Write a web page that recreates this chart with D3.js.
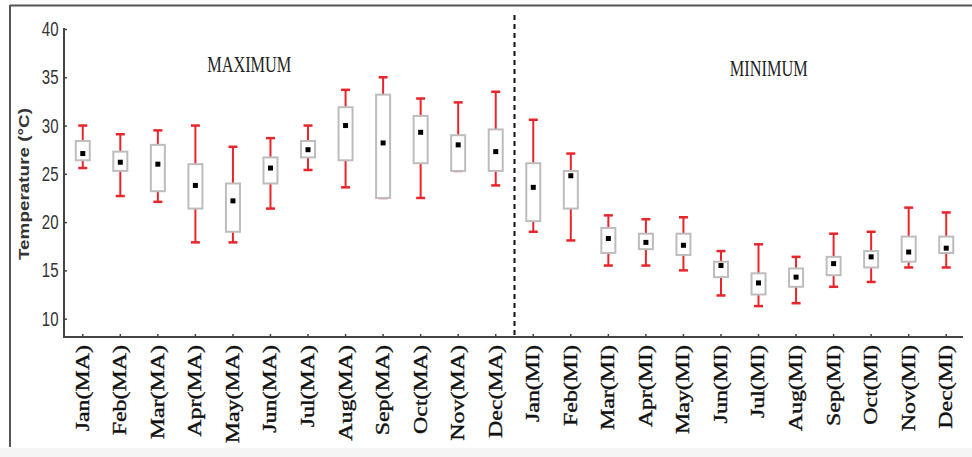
<!DOCTYPE html>
<html>
<head>
<meta charset="utf-8">
<script src="https://cdn.jsdelivr.net/npm/d3@7"></script>
<style>
  html, body { margin: 0; padding: 0; background: #fff; }
  svg { display: block; }
</style>
</head>
<body>
<svg id="chart" width="972" height="457"></svg>
<script>
// Monthly temperature distributions: maximum (MA) and minimum (MI)
const categories = [
  "Jan(MA)", "Feb(MA)", "Mar(MA)", "Apr(MA)", "May(MA)", "Jun(MA)",
  "Jul(MA)", "Aug(MA)", "Sep(MA)", "Oct(MA)", "Nov(MA)", "Dec(MA)",
  "Jan(MI)", "Feb(MI)", "Mar(MI)", "Apr(MI)", "May(MI)", "Jun(MI)",
  "Jul(MI)", "Aug(MI)", "Sep(MI)", "Oct(MI)", "Nov(MI)", "Dec(MI)"
];
const whiskerLow = [25.6, 22.7, 22.1, 17.9, 17.9, 21.4, 25.4, 23.6, 22.5, 22.5, 25.3, 23.8,
                    19.0, 18.1, 15.5, 15.5, 15.0, 12.4, 11.3, 11.6, 13.3, 13.8, 15.3, 15.3];
const boxLow     = [26.4, 25.3, 23.2, 21.4, 19.0, 24.0, 26.7, 26.4, 22.5, 26.1, 25.3, 25.3,
                    20.1, 21.4, 16.8, 17.2, 16.6, 14.3, 12.5, 13.3, 14.5, 15.3, 15.9, 16.8];
const median     = [27.1, 26.2, 26.0, 23.8, 22.2, 25.6, 27.5, 30.0, 28.2, 29.3, 28.0, 27.3,
                    23.6, 24.8, 18.3, 17.9, 17.6, 15.5, 13.7, 14.3, 15.7, 16.4, 16.9, 17.3];
const boxHigh    = [28.4, 27.3, 28.0, 26.0, 24.0, 26.7, 28.4, 31.9, 33.2, 31.0, 29.0, 29.6,
                    26.1, 25.3, 19.4, 18.8, 18.8, 15.9, 14.7, 15.2, 16.4, 17.0, 18.5, 18.5];
const whiskerHigh= [30.0, 29.1, 29.5, 30.0, 27.8, 28.7, 30.0, 33.7, 35.0, 32.8, 32.4, 33.5,
                    30.6, 27.1, 20.7, 20.3, 20.5, 17.0, 17.7, 16.4, 18.8, 19.0, 21.5, 21.0];
const yTicks = [10, 15, 20, 25, 30, 35, 40];
const panelTitles = ["MAXIMUM", "MINIMUM"];

const svg = d3.select("#chart");

// frame lines
svg.append("line").attr("x1", 10).attr("x2", 972).attr("y1", 5.5).attr("y2", 5.5)
  .attr("stroke", "#555").attr("stroke-width", 2);
svg.append("line").attr("x1", 10).attr("x2", 10).attr("y1", 5).attr("y2", 447)
  .attr("stroke", "#555").attr("stroke-width", 2);
svg.append("rect").attr("x", 0).attr("y", 448).attr("width", 972).attr("height", 9)
  .attr("fill", "#f5f5f5");

const x = d3.scaleBand().domain(categories).range([64, 965]).padding(0);
const y = d3.scaleLinear().domain([8.1, 40]).range([337, 29]);
const cx = c => x(c) + x.bandwidth() / 2;

// y axis
const yAxis = svg.append("g").attr("transform", "translate(64,0)")
  .call(d3.axisRight(y).tickValues(yTicks).tickSize(3).tickFormat(""));
yAxis.select(".domain").attr("d", `M0,${y(40) - 1}V${y(8.1)}`)
  .attr("stroke", "#444").attr("stroke-width", 2);
yAxis.selectAll(".tick line").attr("stroke", "#444").attr("stroke-width", 1.5);

svg.append("g").selectAll("text").data(yTicks).join("text")
  .attr("transform", d => `translate(58.5,${y(d)}) scale(1,1.3)`)
  .attr("dy", "0.36em")
  .attr("text-anchor", "end")
  .attr("font-family", "'Liberation Sans', Arial, sans-serif")
  .attr("font-size", 15)
  .attr("fill", "#333")
  .text(d => d);

// x axis
const xAxis = svg.append("g").attr("transform", `translate(0,${y(8.1)})`)
  .call(d3.axisTop(x).tickSize(3).tickFormat(""));
xAxis.select(".domain").attr("d", `M63,0H963`)
  .attr("stroke", "#444").attr("stroke-width", 2);
xAxis.selectAll(".tick line").attr("stroke", "#444").attr("stroke-width", 1.5);

svg.append("g").selectAll("text").data(categories).join("text")
  .attr("transform", d => `translate(${cx(d)},345) rotate(-90) scale(1.33,1)`)
  .attr("dy", "0.33em")
  .attr("text-anchor", "end")
  .attr("font-family", "'Liberation Serif', 'Times New Roman', serif")
  .attr("font-size", 18)
  .attr("fill", "#111")
  .attr("stroke", "#111")
  .attr("stroke-width", 0.35)
  .text(d => d);

// y axis title
svg.append("text")
  .attr("transform", "translate(29,184) rotate(-90) scale(1.35,1)")
  .attr("text-anchor", "middle")
  .attr("font-family", "'Liberation Sans', Arial, sans-serif")
  .attr("font-weight", "bold")
  .attr("font-size", 14)
  .attr("fill", "#333")
  .text("Temperature (°C)");

// divider between the two panels
const splitX = (x("Dec(MA)") + x.bandwidth() + x("Jan(MI)")) / 2;
svg.append("line")
  .attr("x1", splitX).attr("x2", splitX)
  .attr("y1", 15).attr("y2", y(8.1))
  .attr("stroke", "#111").attr("stroke-width", 2)
  .attr("stroke-dasharray", "5,4");

// panel titles
const titleX = [(cx("Jan(MA)") + cx("Dec(MA)")) / 2 - 40, (cx("Jan(MI)") + cx("Dec(MI)")) / 2 + 29];
const titleY = [72, 76];
svg.append("g").selectAll("text").data(panelTitles).join("text")
  .attr("transform", (d, i) => `translate(${titleX[i]},${titleY[i]}) scale(1,1.4)`)
  .attr("text-anchor", "middle")
  .attr("font-family", "'Liberation Serif', 'Times New Roman', serif")
  .attr("font-size", 16.3)
  .attr("fill", "#222")
  .text(d => d);

// box plots
const boxW = 14, capW = 9;
const g = svg.append("g").selectAll("g").data(categories).join("g")
  .attr("transform", d => `translate(${cx(d)},0)`);

g.append("line")
  .attr("y1", (d, i) => y(whiskerHigh[i])).attr("y2", (d, i) => y(whiskerLow[i]))
  .attr("stroke", "#e8252b").attr("stroke-width", 2);
g.append("line")
  .attr("x1", -capW / 2).attr("x2", capW / 2)
  .attr("y1", (d, i) => y(whiskerHigh[i])).attr("y2", (d, i) => y(whiskerHigh[i]))
  .attr("stroke", "#e8252b").attr("stroke-width", 2.5);
g.append("line")
  .attr("x1", -capW / 2).attr("x2", capW / 2)
  .attr("y1", (d, i) => y(whiskerLow[i])).attr("y2", (d, i) => y(whiskerLow[i]))
  .attr("stroke", "#e8252b").attr("stroke-width", 2.5);
g.append("rect")
  .attr("x", -boxW / 2).attr("width", boxW)
  .attr("y", (d, i) => y(boxHigh[i]))
  .attr("height", (d, i) => y(boxLow[i]) - y(boxHigh[i]))
  .attr("fill", "#fff").attr("stroke", "#bdbdbd").attr("stroke-width", 2);
g.append("rect")
  .attr("x", -2.5).attr("width", 5)
  .attr("y", (d, i) => y(median[i]) - 2.5).attr("height", 5)
  .attr("fill", "#000");
</script>
</body>
</html>
